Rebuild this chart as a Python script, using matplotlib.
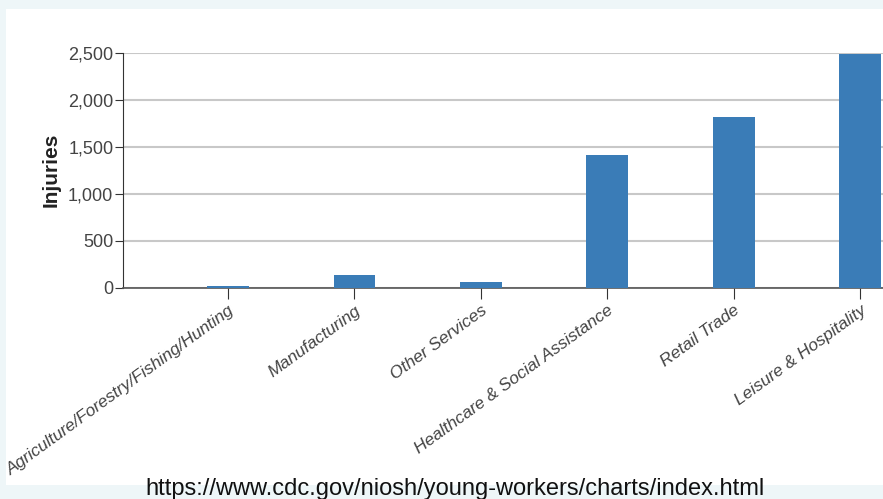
import matplotlib
matplotlib.use("Agg")
import matplotlib.pyplot as plt
from matplotlib.ticker import FuncFormatter

# Data
industries = ["Agriculture/Forestry/Fishing/Hunting", "Manufacturing", "Other Services",
              "Healthcare & Social Assistance", "Retail Trade", "Leisure & Hospitality"]
injuries = [15, 130, 60, 1410, 1820, 2490]
y_ticks = [0, 500, 1000, 1500, 2000, 2500]

bar_color = "#3a7cb7"
bg_color = "#eef6f8"
font = ["Liberation Sans", "DejaVu Sans"]

fig = plt.figure(figsize=(8.83, 4.99), dpi=100)
fig.patch.set_facecolor(bg_color)

# white panel behind the chart
panel = fig.add_axes([6 / 883, 1 - 485 / 499, 1, (485 - 9) / 499], zorder=0)
panel.set_facecolor("white")
panel.set_xticks([])
panel.set_yticks([])
for s in panel.spines.values():
    s.set_visible(False)

ax = fig.add_axes([123 / 883, 1 - 287.7 / 499, 1 - 123 / 883, (287.7 - 52.7) / 499], zorder=2)
ax.set_facecolor("none")

x = list(range(len(industries)))
ax.bar(x, injuries, width=0.33, color=bar_color, zorder=3, clip_on=False)

ax.set_xlim(-0.83, 5.18)
ax.set_ylim(0, 2500)
ax.set_yticks(y_ticks)
ax.yaxis.set_major_formatter(FuncFormatter(lambda v, p: f"{int(v):,}"))
ax.grid(axis="y", color="#c8c8c8", linewidth=1.5, zorder=1)
ax.set_axisbelow(True)

for s in ["top", "right"]:
    ax.spines[s].set_visible(False)
ax.spines["left"].set_color("#333333")
ax.spines["bottom"].set_color("#555555")
ax.spines["bottom"].set_linewidth(1.2)

ax.tick_params(axis="y", length=6, color="#333333", labelcolor="#444444", pad=1)
ax.tick_params(axis="x", length=8, color="#333333", labelcolor="#444444", pad=3)
for lab in ax.get_yticklabels():
    lab.set_family(font)
    lab.set_fontsize(13)

ax.set_xticks(x)
ax.set_xticklabels(industries, rotation=36, ha="right", rotation_mode="anchor",
                   family=font, fontsize=12.5, style="italic")

ax.set_ylabel("Injuries", fontsize=15, fontweight="bold", color="#222222", family=font)
ax.yaxis.set_label_coords(-0.082, 0.5)

fig.text(455 / 883, 1 - 489 / 499, "https://www.cdc.gov/niosh/young-workers/charts/index.html",
         ha="center", va="center", fontsize=17, color="#111111", family=font)

fig.savefig("out.png", dpi=100, facecolor=bg_color)
